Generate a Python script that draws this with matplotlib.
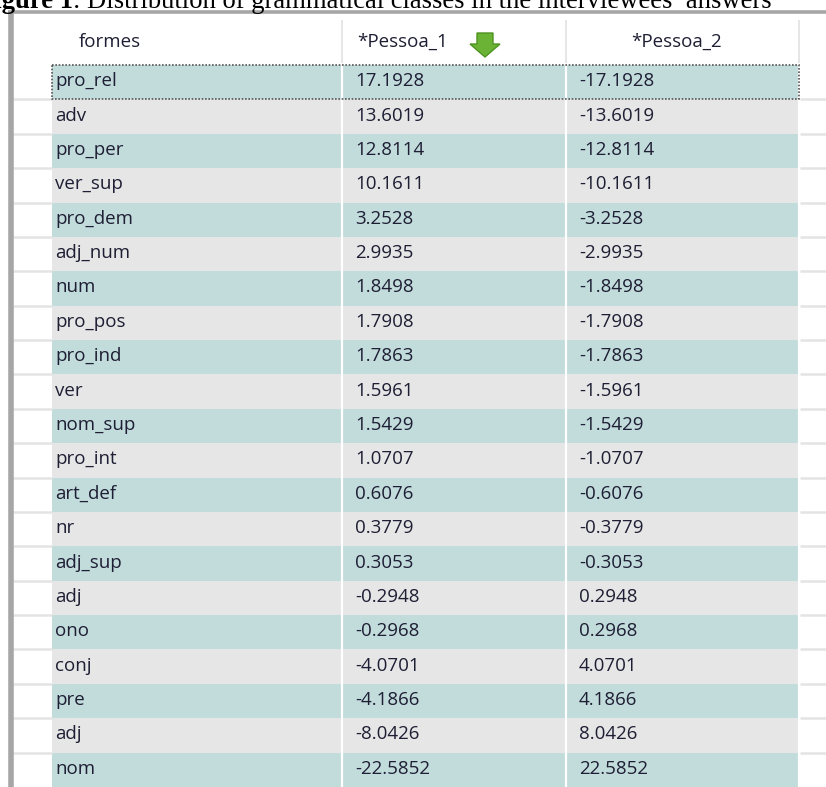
import matplotlib.pyplot as plt
from matplotlib.patches import Polygon, Rectangle

# ----------table data----------
headers = ["formes", "*Pessoa_1", "*Pessoa_2"]
formes = ["pro_rel", "adv", "pro_per", "ver_sup", "pro_dem", "adj_num", "num",
          "pro_pos", "pro_ind", "ver", "nom_sup", "pro_int", "art_def", "nr",
          "adj_sup", "adj", "ono", "conj", "pre", "adj", "nom"]
pessoa_1 = [17.1928, 13.6019, 12.8114, 10.1611, 3.2528, 2.9935, 1.8498,
            1.7908, 1.7863, 1.5961, 1.5429, 1.0707, 0.6076, 0.3779,
            0.3053, -0.2948, -0.2968, -4.0701, -4.1866, -8.0426, -22.5852]
pessoa_2 = [-17.1928, -13.6019, -12.8114, -10.1611, -3.2528, -2.9935, -1.8498,
            -1.7908, -1.7863, -1.5961, -1.5429, -1.0707, -0.6076, -0.3779,
            -0.3053, 0.2948, 0.2968, 4.0701, 4.1866, 8.0426, 22.5852]
caption_bold = "Figure 1"
caption_rest = ": Distribution of grammatical classes in the interviewees\u2019 answers"

W, H = 826, 787
TABLE_FONT = "Open Sans"
FS = 13.5
TEXT_COLOR = "#1e1e34"
TEAL = "#c2dcdc"
GREY = "#e6e6e6"


def main():
    fig = plt.figure(figsize=(W / 100, H / 100), dpi=100)
    ax = fig.add_axes([0, 0, 1, 1])
    ax.set_xlim(0, W)
    ax.set_ylim(H, 0)
    ax.axis("off")

    col_edges = [52, 342, 566, 799]
    row_top = 65
    row_h = 34.38
    n = len(formes)
    centers = [row_top + (i + 0.5) * row_h for i in range(n)]

    # ----------row backgrounds----------
    colors = [TEAL if i % 2 == 0 else GREY for i in range(n)]
    ax.barh(centers, col_edges[-1] - col_edges[0], height=row_h,
            left=col_edges[0], color=colors, linewidth=0, zorder=1)
    for x in col_edges[1:]:
        ax.vlines(x, row_top, H, color="white", lw=1.6, zorder=2)
    # light separators in the white side areas
    for i in range(1, n):
        y = row_top + i * row_h
        ax.hlines(y, 13, col_edges[0], color="#e4e4e4", lw=1.8, zorder=2)
        ax.hlines(y, col_edges[-1] + 1, W, color="#e4e4e4", lw=1.8, zorder=2)

    # ----------frame----------
    ax.hlines(12, 8, W, color="#a6a6a6", lw=2.6, zorder=3)
    ax.vlines(10.5, 11, H, color="#a6a6a6", lw=4, zorder=3)
    for x in col_edges[1:]:
        ax.vlines(x, 20, 63, color="#e2e2e2", lw=1.2, zorder=2)

    # ----------header----------
    ax.text(110, 42, headers[0], ha="center", va="center", fontsize=FS,
            family=TABLE_FONT, color=TEXT_COLOR, zorder=4)
    ax.text(403, 42, headers[1], ha="center", va="center", fontsize=FS,
            family=TABLE_FONT, color=TEXT_COLOR, zorder=4)
    ax.text(677, 42, headers[2], ha="center", va="center", fontsize=FS,
            family=TABLE_FONT, color=TEXT_COLOR, zorder=4)
    arrow = [(477, 33), (493, 33), (493, 44), (500, 44), (485, 57),
             (470, 44), (477, 44)]
    ax.add_patch(Polygon(arrow, closed=True, facecolor="#6ab334",
                         edgecolor="#4f9322", lw=1, zorder=4))

    # ----------cells----------
    for y, f, a, b in zip(centers, formes, pessoa_1, pessoa_2):
        ax.text(55, y - 1, f, ha="left", va="center", fontsize=FS,
                family=TABLE_FONT, color=TEXT_COLOR, zorder=4)
        ax.text(355, y - 1, f"{a:.4f}", ha="left", va="center", fontsize=FS,
                family=TABLE_FONT, color=TEXT_COLOR, zorder=4)
        ax.text(579, y - 1, f"{b:.4f}", ha="left", va="center", fontsize=FS,
                family=TABLE_FONT, color=TEXT_COLOR, zorder=4)

    # focus rectangle around the first row
    ax.add_patch(Rectangle((col_edges[0], row_top), col_edges[-1] - col_edges[0],
                           row_h, fill=False, edgecolor="#555555", lw=1.2,
                           linestyle=(0, (1, 1)), zorder=5))

    # ----------caption (cut off at the top, as in the screenshot)----------
    t1 = ax.text(-22, 8, caption_bold, ha="left", va="baseline", fontsize=19.2,
                 family="Liberation Serif", weight="bold", color="black", zorder=6)
    fig.canvas.draw()
    bb = t1.get_window_extent()
    x_end = ax.transData.inverted().transform((bb.x1, 0))[0]
    ax.text(x_end, 8, caption_rest, ha="left", va="baseline", fontsize=19.2,
            family="Liberation Serif", color="black", zorder=6)

    fig.savefig("out.png", dpi=100, facecolor="white")


if __name__ == '__main__':
    main()
